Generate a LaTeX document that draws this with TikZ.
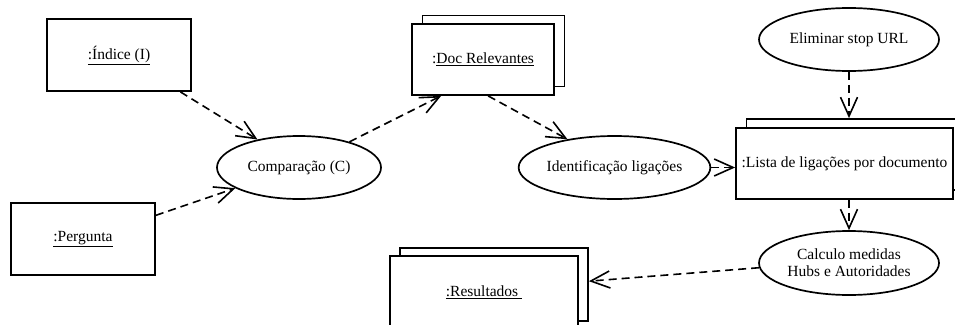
\documentclass[tikz,border=0pt]{standalone}
\usepackage{fontspec}
\setmainfont{Liberation Serif}
\usetikzlibrary{shapes.geometric,arrows.meta}
\tikzset{
  objbox/.style={draw, line width=1.8, fill=white, inner sep=0, rectangle},
  actv/.style={draw, line width=1.7, fill=white, ellipse, inner sep=0, align=center},
  dep/.style={line width=1.6, dash pattern=on 8pt off 5pt, -{Straight Barb[length=19pt,width=17pt,line width=1.6]}},
}
\begin{document}
\begin{tikzpicture}[x=1pt,y=-1pt,font=\fontsize{15.5}{17}\selectfont]
\useasboundingbox (0,0) rectangle (955,324);
\clip (0,0) rectangle (955,324);
% objects
\node[objbox, minimum width=144, minimum height=72] (idx) at (119,55) {\underline{:Índice (I)}};
\node[objbox, minimum width=144, minimum height=72] (perg) at (83,239) {\underline{:Pergunta}};
\node[objbox, minimum width=142, minimum height=71] (doc2) at (493.5,51) {};
\node[objbox, minimum width=142, minimum height=71] (doc) at (483,59.5) {:\underline{Doc Relevantes}};
\node[objbox, minimum width=217, minimum height=71] (lista2) at (855,154.5) {};
\node[objbox, minimum width=217, minimum height=71] (lista) at (844.5,163.5) {:Lista de ligações por documento};
\node[objbox, minimum width=188, minimum height=73] (res2) at (494,284.5) {};
\node[objbox, minimum width=188, minimum height=73] (res) at (484,292.5) {\underline{:Resultados\ }};
% activities
\node[actv, minimum width=164, minimum height=63] (comp) at (299,167.5) {Comparação (C)};
\node[actv, minimum width=181, minimum height=63] (ident) at (614.5,167.5) {Identificação ligações};
\node[actv, minimum width=180, minimum height=63] (elim) at (849,39.5) {Eliminar stop URL};
\node[actv, minimum width=180, minimum height=64] (calc) at (849,263) {Calculo medidas\\Hubs e Autoridades};
% dependencies
\draw[dep] (idx.-31.4) -- (comp.146.8);
\draw[dep] (perg.18.4) -- (comp.198.3);
\draw[dep] (comp.27) -- (doc.221.6);
\draw[dep] (doc.-82) -- (ident.149);
\draw[dep] (ident.east) -- (ident.east -| lista.west);
\draw[dep] (elim.south) -- (elim.south |- lista2.north);
\draw[dep] (calc.north |- lista.south) -- (calc.north);
\draw[dep] (calc.183) -- (res2.2);
\end{tikzpicture}
\end{document}
